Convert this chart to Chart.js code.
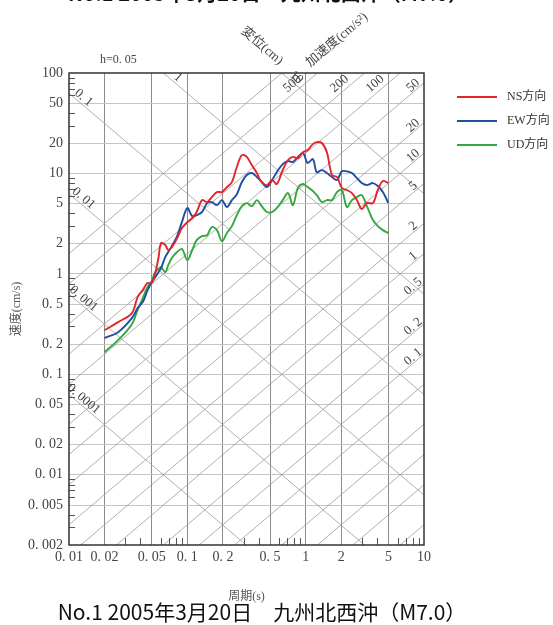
<!DOCTYPE html>
<html>
<head>
<meta charset="utf-8">
<script src="https://cdn.jsdelivr.net/npm/chart.js@4.4.1/dist/chart.umd.min.js"></script>
<style>
  html, body { margin: 0; padding: 0; background: #fff; }
  #wrap { width: 553px; height: 625px; }
</style>
</head>
<body>
<div id="wrap"><canvas id="spectre" width="553" height="625"></canvas></div>
<script>
// ---- données (période s / vitesse cm/s) ----
const periods = [0.02,0.026,0.034,0.038,0.042,0.046,0.05,0.053,0.057,0.06,0.065,0.069,0.074,0.082,0.09,0.1,0.11,0.12,0.133,0.147,0.161,0.178,0.196,0.216,0.238,0.262,0.289,0.318,0.351,0.387,0.419,0.47,0.52,0.57,0.64,0.71,0.78,0.86,0.95,1.04,1.15,1.24,1.37,1.51,1.67,1.84,2.02,2.23,2.46,2.71,2.98,3.29,3.7,4.07,4.49,5.0];
const nsValues = [0.275,0.331,0.407,0.587,0.69,0.81,0.81,0.97,1.44,2.03,1.94,1.73,1.85,2.27,2.86,3.28,3.6,4.13,5.43,5.19,5.82,6.53,6.53,7.32,8.21,11.6,15.2,14.6,12.1,10.1,8.4,7.66,8.6,7.84,10.8,13.6,14.6,14.2,16.3,17.1,19.6,20.5,20.1,16.3,9.64,9.21,7.16,6.84,6.38,5.43,4.42,5.07,5.07,6.84,8.4,8.02];
const ewValues = [0.23,0.263,0.363,0.456,0.524,0.68,0.828,0.91,1.04,1.14,1.47,1.65,1.9,2.38,3.28,4.52,3.76,3.85,4.13,5.07,5.19,4.84,5.43,4.63,5.43,6.2,8.21,9.64,10.1,9.21,8.4,7.32,8.6,10.3,12.4,13.3,13.0,14.6,16.0,12.7,13.9,10.3,10.8,10.1,9.21,8.6,10.5,10.5,10.1,9.0,8.02,7.66,8.02,7.5,6.53,5.07];
const udValues = [0.167,0.219,0.316,0.437,0.574,0.739,0.847,1.02,1.12,1.17,1.04,1.22,1.44,1.65,1.77,1.37,1.73,2.17,2.38,2.43,2.93,2.73,2.12,2.55,2.99,3.85,4.73,5.07,4.73,5.43,4.84,4.13,4.13,4.52,5.43,6.38,4.84,7.16,7.84,7.32,6.7,6.09,5.19,5.43,5.43,6.53,6.84,4.63,5.43,5.82,6.09,4.73,3.44,2.99,2.73,2.55];

const seriesLabels = ['NS方向', 'EW方向', 'UD方向'];
const seriesColors = ['#e2252c', '#1f4ea3', '#33a83c'];

const periodTicks = [0.01, 0.02, 0.05, 0.1, 0.2, 0.5, 1, 2, 5, 10];
const velocityTicks = [100, 50, 20, 10, 5, 2, 1, 0.5, 0.2, 0.1, 0.05, 0.02, 0.01, 0.005, 0.002];
const dispLines = [0.0001, 0.001, 0.01, 0.1, 1, 10];          // 変位 (cm)
const accLines = [0.002, 0.005, 0.01, 0.02, 0.05, 0.1, 0.2, 0.5, 1, 2, 5, 10, 20, 50, 100, 200, 500, 1000]; // 加速度
const accLabelled = [500, 200, 100, 50, 20, 10, 5, 2, 1, 0.5, 0.2, 0.1];

const chartTitle = 'No.1 2005年3月20日　九州北西沖（M7.0）';

const TWO_PI = 2 * Math.PI;
const SERIF = "'Liberation Serif', 'Noto Sans CJK JP', serif";
const SANS = "'Noto Sans CJK JP', sans-serif";
const fmt = v => String(v).replace('.', '. ');

// ==========================================
// lignes tripartites + graduations mineures
// ==========================================
const tripartite = {
    id: 'tripartite',
    beforeDatasetsDraw(chart) {
        const { ctx, chartArea: a, scales: { x, y } } = chart;
        ctx.save();
        ctx.beginPath();
        ctx.rect(a.left, a.top, a.right - a.left, a.bottom - a.top);
        ctx.clip();

        ctx.strokeStyle = '#9c9c9c';
        ctx.lineWidth = 0.8;
        dispLines.forEach(d => {
            ctx.beginPath();
            ctx.moveTo(x.getPixelForValue(x.min), y.getPixelForValue(TWO_PI * d / x.min));
            ctx.lineTo(x.getPixelForValue(x.max), y.getPixelForValue(TWO_PI * d / x.max));
            ctx.stroke();
        });
        accLines.forEach(acc => {
            ctx.beginPath();
            ctx.moveTo(x.getPixelForValue(x.min), y.getPixelForValue(acc * x.min / TWO_PI));
            ctx.lineTo(x.getPixelForValue(x.max), y.getPixelForValue(acc * x.max / TWO_PI));
            ctx.stroke();
        });

        // petites graduations intérieures
        ctx.strokeStyle = '#555';
        ctx.lineWidth = 1;
        [0.01, 0.1, 1].forEach(dec => {
            [3, 4, 6, 7, 8, 9].forEach(m => {
                const px = Math.round(x.getPixelForValue(dec * m)) + 0.5;
                ctx.beginPath();
                ctx.moveTo(px, a.bottom);
                ctx.lineTo(px, a.bottom - 7);
                ctx.stroke();
            });
        });
        [0.001, 0.01, 0.1, 1, 10].forEach(dec => {
            [3, 4, 6, 7, 8, 9].forEach(m => {
                const v = dec * m;
                if (v < y.min || v > y.max) return;
                const py = Math.round(y.getPixelForValue(v)) + 0.5;
                ctx.beginPath();
                ctx.moveTo(a.left, py);
                ctx.lineTo(a.left + 6, py);
                ctx.stroke();
            });
        });
        ctx.restore();

        ctx.save();
        ctx.strokeStyle = '#333';
        ctx.lineWidth = 1.5;
        ctx.strokeRect(a.left, a.top, a.right - a.left, a.bottom - a.top);
        ctx.restore();
    },
    afterDraw(chart) {
        const { ctx, chartArea: a, scales: { x, y } } = chart;
        const xDec = x.getPixelForValue(1) - x.getPixelForValue(0.1);
        const yDec = y.getPixelForValue(1) - y.getPixelForValue(10);
        const th = Math.atan2(yDec, xDec);
        const c = Math.cos(th), s = Math.sin(th);

        ctx.save();
        ctx.fillStyle = '#444';
        ctx.font = '13px ' + SERIF;
        ctx.textAlign = 'center';
        ctx.textBaseline = 'middle';

        const put = (txt, px, py, rot) => {
            ctx.save();
            ctx.translate(px, py);
            ctx.rotate(rot);
            ctx.fillText(txt, 0, 0);
            ctx.restore();
        };

        // étiquettes de déplacement
        dispLines.forEach(d => {
            let px, py;
            const along = 14, off = 6;
            const svLeft = TWO_PI * d / x.min;
            if (svLeft <= y.max) { px = a.left; py = y.getPixelForValue(svLeft); }
            else { px = x.getPixelForValue(TWO_PI * d / y.max); py = a.top; }
            put(fmt(d), px + c * along + s * off, py + s * along - c * off, th);
        });
        // étiquettes d'accélération
        accLabelled.forEach(acc => {
            let px, py, along, off;
            const tTop = TWO_PI * y.max / acc;
            if (tTop <= x.max) { px = x.getPixelForValue(tTop); py = a.top; along = 26; off = 8; }
            else { px = a.right; py = y.getPixelForValue(acc * x.max / TWO_PI); along = 10; off = 5; }
            put(fmt(acc), px - c * along - s * off, py + s * along - c * off, -th);
        });

        // textes libres
        ctx.font = '12px ' + SERIF;
        ctx.textAlign = 'left';
        ctx.fillText('h=0. 05', 100, 60);
        ctx.font = '13px ' + SERIF;
        ctx.textAlign = 'center';
        put('変位(cm)', 262, 46, th);
        put('加速度(cm/s²)', 337, 40, -th);

        // légende
        ctx.textAlign = 'left';
        ctx.font = '12px ' + SERIF;
        chart.data.datasets.forEach((ds, i) => {
            const ly = 97 + i * 24;
            ctx.strokeStyle = ds.borderColor;
            ctx.lineWidth = 2;
            ctx.beginPath();
            ctx.moveTo(457, ly);
            ctx.lineTo(497, ly);
            ctx.stroke();
            ctx.fillStyle = '#333';
            ctx.fillText(ds.label, 507, ly);
        });

        // titre principal + titre tronqué de la figure précédente
        ctx.fillStyle = '#111';
        ctx.font = '21px ' + SANS;
        ctx.textAlign = 'center';
        ctx.fillText(chartTitle, 262, 612);
        ctx.font = 'bold 20px ' + SANS;
        ctx.fillText(chartTitle, 268, -7);
        ctx.restore();
    }
};

const toPoints = vals => periods.map((t, i) => ({ x: t, y: vals[i] }));

new Chart(document.getElementById('spectre'), {
    type: 'line',
    data: {
        datasets: [nsValues, ewValues, udValues].map((vals, i) => ({
            label: seriesLabels[i],
            data: toPoints(vals),
            borderColor: seriesColors[i],
            backgroundColor: seriesColors[i],
            borderWidth: 1.9,
            pointRadius: 0,
            tension: 0.35,
            fill: false
        }))
    },
    options: {
        responsive: false,
        animation: false,
        devicePixelRatio: 1,
        layout: { padding: { top: 73, right: 129, left: 0, bottom: 22 } },
        plugins: {
            legend: { display: false },
            tooltip: { enabled: false },
            title: { display: false }
        },
        scales: {
            x: {
                type: 'logarithmic',
                position: 'bottom',
                min: 0.01,
                max: 10,
                afterBuildTicks: axis => { axis.ticks = periodTicks.map(v => ({ value: v })); },
                afterFit: axis => { axis.height = 58; },
                ticks: {
                    autoSkip: false,
                    maxRotation: 0,
                    padding: 4,
                    color: '#444',
                    font: { family: SERIF, size: 14 },
                    callback: v => fmt(v)
                },
                grid: {
                    drawTicks: false,
                    color: c => (c.tick && (c.tick.value === 0.01 || c.tick.value === 10)) ? 'rgba(0,0,0,0)' : '#8c8c8c',
                    lineWidth: 1
                },
                border: { display: false },
                title: {
                    display: true,
                    text: '周期(s)',
                    color: '#555',
                    font: { family: SERIF, size: 12, lineHeight: 1 },
                    padding: { top: 0, bottom: 0 }
                }
            },
            y: {
                type: 'logarithmic',
                min: 0.002,
                max: 100,
                afterBuildTicks: axis => { axis.ticks = velocityTicks.map(v => ({ value: v })); },
                afterFit: axis => { axis.width = 69; },
                ticks: {
                    autoSkip: false,
                    padding: 6,
                    color: '#444',
                    font: { family: SERIF, size: 14 },
                    callback: v => fmt(v)
                },
                grid: {
                    drawTicks: false,
                    color: c => (c.tick && (c.tick.value === 100 || c.tick.value === 0.002)) ? 'rgba(0,0,0,0)' : '#c6c6c6',
                    lineWidth: 1
                },
                border: { display: false },
                title: {
                    display: true,
                    text: '速度(cm/s)',
                    color: '#555',
                    font: { family: SERIF, size: 12, lineHeight: 1 },
                    padding: { top: 11, bottom: 0 }
                }
            }
        }
    },
    plugins: [tripartite]
});
</script>
</body>
</html>
